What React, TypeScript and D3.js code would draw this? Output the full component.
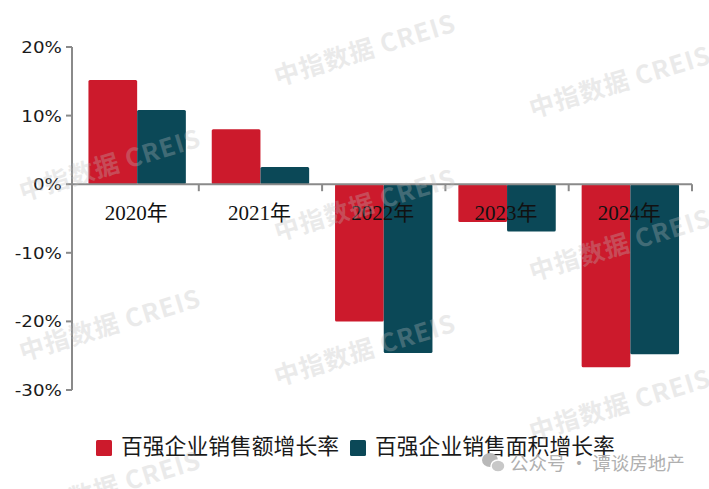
import { useEffect, useRef } from 'react';
import * as d3 from 'd3';

const years = ['2020年', '2021年', '2022年', '2023年', '2024年'];
const seriesNames = ['百强企业销售额增长率', '百强企业销售面积增长率'];
const salesAmountGrowth = [15.2, 8.0, -20.0, -5.5, -26.7];
const salesAreaGrowth = [10.8, 2.5, -24.6, -6.9, -24.8];
const yTicks = [-30, -20, -10, 0, 10, 20];

const watermarks = [
  [110, 165], [110, 325], [110, 487],
  [365, 50], [365, 205], [365, 350],
  [620, 82], [620, 245], [620, 405],
];

export default function App() {
  const svgRef = useRef<SVGSVGElement>(null);
  const width = 709;
  const height = 489;

  useEffect(() => {
    if (!svgRef.current) return;
    const svg = d3.select(svgRef.current);
    svg.selectAll('*').remove();

    const colors = ['#CC1A2C', '#0B4857'];
    const axisColor = '#8a8a8a';
    const axisX = 72;

    const x0 = d3.scaleBand<string>()
      .domain(years)
      .range([75.5, 692])
      .paddingInner(0.21)
      .paddingOuter(0.105);

    const x1 = d3.scaleBand<number>()
      .domain([0, 1])
      .range([0, x0.bandwidth()]);

    const y = d3.scaleLinear()
      .domain([-30, 20])
      .range([390, 47]);

    const rows = years.map((yr, i) => ({
      year: yr,
      values: [salesAmountGrowth[i], salesAreaGrowth[i]],
    }));

    // Bars
    const groups = svg.append('g')
      .selectAll('g')
      .data(rows)
      .join('g')
      .attr('transform', d => `translate(${x0(d.year)},0)`);

    groups.selectAll('rect')
      .data(d => d.values.map((v, k) => ({ v, k })))
      .join('rect')
      .attr('x', d => x1(d.k)!)
      .attr('width', x1.bandwidth())
      .attr('y', d => y(Math.max(0, d.v)))
      .attr('height', d => Math.abs(y(d.v) - y(0)))
      .attr('rx', 1.5)
      .attr('fill', d => colors[d.k]);

    // Y axis
    svg.append('line')
      .attr('x1', axisX).attr('x2', axisX)
      .attr('y1', y(20)).attr('y2', y(-30))
      .attr('stroke', axisColor)
      .attr('stroke-width', 2);

    yTicks.forEach(t => {
      svg.append('line')
        .attr('x1', axisX - 6).attr('x2', axisX)
        .attr('y1', y(t)).attr('y2', y(t))
        .attr('stroke', axisColor)
        .attr('stroke-width', 2);

      svg.append('text')
        .attr('transform', `translate(62,${y(t) + 6}) scale(1.22,1)`)
        .attr('text-anchor', 'end')
        .attr('font-family', '"DejaVu Sans", Verdana, sans-serif')
        .attr('font-size', '15px')
        .attr('fill', '#1a1a1a')
        .text(`${t}%`);
    });

    // X axis at zero
    svg.append('line')
      .attr('x1', axisX).attr('x2', 692)
      .attr('y1', y(0)).attr('y2', y(0))
      .attr('stroke', axisColor)
      .attr('stroke-width', 2);

    const step = x0.step();
    years.forEach((_, i) => {
      const tx = x0.range()[0] + step * (i + 1);
      svg.append('line')
        .attr('x1', tx).attr('x2', tx)
        .attr('y1', y(0)).attr('y2', y(0) + 7)
        .attr('stroke', axisColor)
        .attr('stroke-width', 2);
    });

    // Category labels
    svg.append('g')
      .selectAll('text')
      .data(years)
      .join('text')
      .attr('x', d => x0(d)! + x0.bandwidth() / 2 - 1)
      .attr('y', y(0) + 36)
      .attr('text-anchor', 'middle')
      .attr('font-family', '"Liberation Serif", "Times New Roman", "Noto Sans CJK SC", serif')
      .attr('font-size', '21px')
      .attr('fill', '#111')
      .text(d => d);

    // Legend
    const legendItems = [
      { x: 96, label: seriesNames[0], color: colors[0] },
      { x: 350, label: seriesNames[1], color: colors[1] },
    ];
    legendItems.forEach(item => {
      svg.append('rect')
        .attr('x', item.x)
        .attr('y', 440)
        .attr('width', 16)
        .attr('height', 16)
        .attr('rx', 1.5)
        .attr('fill', item.color);

      svg.append('text')
        .attr('x', item.x + 25)
        .attr('y', 454)
        .attr('font-family', '"Noto Sans CJK SC", sans-serif')
        .attr('font-size', '21.8px')
        .attr('fill', '#1a1a1a')
        .text(item.label);
    });

    // Watermarks
    const wm = svg.append('g').attr('pointer-events', 'none');
    watermarks.forEach(([cx, cy]) => {
      wm.append('text')
        .attr('transform', `translate(${cx},${cy}) rotate(-17)`)
        .attr('text-anchor', 'middle')
        .attr('dy', '0.35em')
        .attr('font-family', '"Noto Sans CJK SC", sans-serif')
        .attr('font-weight', 700)
        .attr('font-size', '25px')
        .attr('letter-spacing', '1px')
        .attr('fill', '#bdbdbd')
        .attr('opacity', 0.3)
        .text('中指数据 CREIS');
    });

    // Account tag
    const tag = svg.append('g').attr('transform', 'translate(493,463)');
    tag.append('ellipse')
      .attr('cx', -3).attr('cy', -3).attr('rx', 8).attr('ry', 7)
      .attr('fill', '#b8b8b8');
    tag.append('ellipse')
      .attr('cx', 5).attr('cy', 3).attr('rx', 7).attr('ry', 6)
      .attr('fill', '#c8c8c8')
      .attr('stroke', '#fff')
      .attr('stroke-width', 1.5);

    svg.append('text')
      .attr('x', 510)
      .attr('y', 470)
      .attr('font-family', '"Noto Sans CJK SC", sans-serif')
      .attr('font-size', '18.5px')
      .attr('fill', '#b0b0b0')
      .text('公众号 · 谭谈房地产');
  }, []);

  return (
    <svg
      ref={svgRef}
      width={width}
      height={height}
      style={{ position: 'fixed', left: 0, top: 0, background: '#fff' }}
    />
  );
}
